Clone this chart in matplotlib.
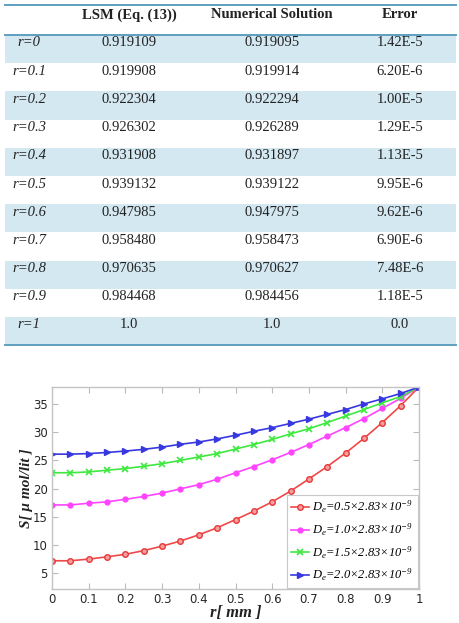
import matplotlib
matplotlib.use("Agg")
import matplotlib.pyplot as plt
from matplotlib.patches import Rectangle

plt.rcParams["mathtext.fontset"] = "custom"
plt.rcParams["mathtext.rm"] = "Liberation Serif:italic"
plt.rcParams["mathtext.it"] = "Liberation Serif:italic"

# ---- table data ----
col_headers = ["LSM (Eq. (13))", "Numerical Solution", "Error"]
row_labels = ["r=0", "r=0.1", "r=0.2", "r=0.3", "r=0.4", "r=0.5",
              "r=0.6", "r=0.7", "r=0.8", "r=0.9", "r=1"]
lsm_values = ["0.919109", "0.919908", "0.922304", "0.926302", "0.931908", "0.939132",
              "0.947985", "0.958480", "0.970635", "0.984468", "1.0"]
numerical_values = ["0.919095", "0.919914", "0.922294", "0.926289", "0.931897", "0.939122",
                    "0.947975", "0.958473", "0.970627", "0.984456", "1.0"]
error_values = ["1.42E-5", "6.20E-6", "1.00E-5", "1.29E-5", "1.13E-5", "9.95E-6",
                "9.62E-6", "6.90E-6", "7.48E-6", "1.18E-5", "0.0"]

# ---- chart data ----
r_mm = [0.0, 0.05, 0.1, 0.15, 0.2, 0.25, 0.3, 0.35, 0.4, 0.45, 0.5,
        0.55, 0.6, 0.65, 0.7, 0.75, 0.8, 0.85, 0.9, 0.95, 1.0]
s_de05 = [7.2, 7.2, 7.5, 7.9, 8.35, 9.0, 9.8, 10.7, 11.8, 13.05, 14.5,
          16.0, 17.65, 19.55, 21.7, 23.9, 26.3, 28.9, 31.7, 34.7, 38.0]
s_de10 = [17.1, 17.1, 17.4, 17.65, 18.1, 18.6, 19.2, 19.95, 20.7, 21.65, 22.8,
          23.9, 25.1, 26.4, 27.8, 29.3, 30.8, 32.4, 34.2, 36.0, 38.0]
s_de15 = [22.8, 22.8, 22.95, 23.25, 23.55, 23.95, 24.4, 25.0, 25.6, 26.2, 27.0,
          27.8, 28.7, 29.7, 30.6, 31.7, 32.85, 34.0, 35.2, 36.3, 38.0]
s_de20 = [26.1, 26.1, 26.2, 26.4, 26.65, 26.95, 27.35, 27.85, 28.25, 28.8, 29.45,
          30.15, 30.8, 31.55, 32.3, 33.15, 34.0, 35.0, 35.9, 36.85, 38.0]
legend_labels = [r"$D_e$=0.5×2.83×10$^{-9}$", r"$D_e$=1.0×2.83×10$^{-9}$",
                 r"$D_e$=1.5×2.83×10$^{-9}$", r"$D_e$=2.0×2.83×10$^{-9}$"]

W, H = 459, 623
fig = plt.figure(figsize=(W / 100, H / 100), dpi=100)

# ---- table (pixel coordinates) ----
SHADE = "#d4e8f1"
RULE = "#5f9fc0"
TABLE_L, TABLE_R = 5, 456
TOP, HEAD_H, ROW_H = 5, 30, 28.2
COL_X = [29, 129, 272, 400]
SERIF = "Liberation Serif"

tab = fig.add_axes([0, 0, 1, 1])
tab.set_xlim(0, W)
tab.set_ylim(H, 0)
tab.axis("off")

for i, lab in enumerate(row_labels):
    y0 = TOP + HEAD_H + i * ROW_H
    if i % 2 == 0:
        tab.add_patch(Rectangle((TABLE_L, y0), TABLE_R - TABLE_L, ROW_H,
                                facecolor=SHADE, edgecolor="none"))
    yt = y0 + 8
    tab.text(COL_X[0], yt, lab, ha="center", va="center", fontsize=10.5,
             family=SERIF, style="italic", color="#222222")
    for cx, val in zip(COL_X[1:], (lsm_values[i], numerical_values[i], error_values[i])):
        tab.text(cx, yt, val, ha="center", va="center", fontsize=10.5,
                 family=SERIF, color="#222222")

for cx, h in zip(COL_X[1:], col_headers):
    tab.text(cx, TOP + 10, h, ha="center", va="center", fontsize=10.5,
             family=SERIF, weight="bold", color="#222222")

bottom = TOP + HEAD_H + len(row_labels) * ROW_H
for yy in (TOP, TOP + HEAD_H, bottom):
    tab.plot([TABLE_L, TABLE_R], [yy, yy], color=RULE, lw=1.4)

# ---- chart ----
ax = fig.add_axes([52 / W, 1 - 589 / H, (419 - 52) / W, (589 - 387) / H])
ax.plot(r_mm, s_de05, color="#f04848", marker="o", ms=4, mfc="#f5a0a0", mec="#e83838",
        lw=1.2, label=legend_labels[0])
ax.plot(r_mm, s_de10, color="#ff44ff", marker="o", ms=3.5, mfc="#ff44ff", mec="#ff44ff",
        lw=1.2, label=legend_labels[1])
ax.plot(r_mm, s_de15, color="#3ee83e", marker="x", ms=4, mew=1.2,
        lw=1.2, label=legend_labels[2])
ax.plot(r_mm, s_de20, color="#3838e0", marker=">", ms=4,
        lw=1.2, label=legend_labels[3])

ax.set_xlim(0, 1)
ax.set_ylim(2.2, 38)
ax.set_xticks([0, 0.1, 0.2, 0.3, 0.4, 0.5, 0.6, 0.7, 0.8, 0.9, 1.0])
ax.set_xticklabels(["0", "0.1", "0.2", "0.3", "0.4", "0.5", "0.6", "0.7", "0.8", "0.9", "1"])
ax.set_yticks([5, 10, 15, 20, 25, 30, 35])
ax.tick_params(direction="in", top=True, right=True, length=4, width=0.8,
               color="#bbbbbb", labelsize=8.5, labelcolor="#262626", pad=3)
for sp in ax.spines.values():
    sp.set_color("#c4c4c4")
    sp.set_linewidth(1.0)

ax.set_xlabel("r[ mm ]", family=SERIF, style="italic", weight="bold", fontsize=12,
              color="#222222")
ax.xaxis.set_label_coords(0.5, -0.08)
ax.set_ylabel("S[ μ mol/lit ]", family=SERIF, style="italic", weight="bold", fontsize=11,
              color="#222222")
ax.yaxis.set_label_coords(-0.052, 0.5)

leg = ax.legend(loc="lower right", borderaxespad=0.1, fancybox=False,
                edgecolor="#c8c8c8", framealpha=1,
                prop={"family": SERIF, "style": "italic", "size": 9},
                handlelength=1.4, handletextpad=0.3, labelspacing=0.5,
                borderpad=0.35)
leg.get_frame().set_linewidth(0.8)

fig.savefig("out.png", dpi=100)
